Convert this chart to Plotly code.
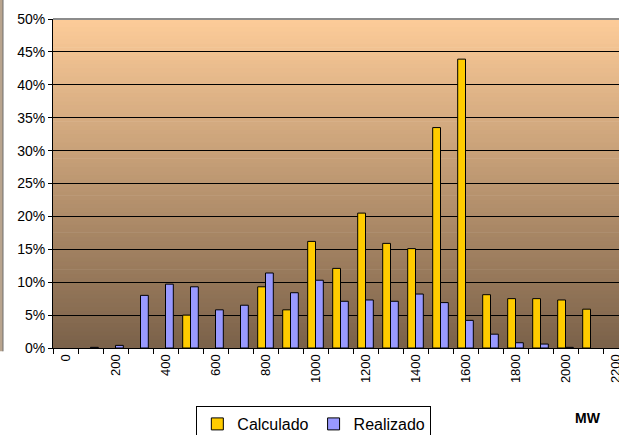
import plotly.graph_objects as go

# ---- data ----
mw = [0, 100, 200, 300, 400, 500, 600, 700, 800, 900, 1000, 1100,
      1200, 1300, 1400, 1500, 1600, 1700, 1800, 1900, 2000, 2100, 2200]
calculado = [None, None, None, None, None, 0.050, None, None, 0.093, 0.058, 0.162, 0.121,
             0.205, 0.159, 0.151, 0.335, 0.439, 0.081, 0.075, 0.075, 0.073, 0.059, None]
realizado = [None, 0.001, 0.004, 0.080, 0.097, 0.093, 0.058, 0.065, 0.114, 0.084, 0.103, 0.071,
             0.073, 0.071, 0.082, 0.069, 0.042, 0.021, 0.008, 0.006, 0.001, None, None]
tick_vals = [0, 200, 400, 600, 800, 1000, 1200, 1400, 1600, 1800, 2000, 2200]
tick_text = [str(v) for v in tick_vals]
y_ticks = [i * 0.05 for i in range(11)]

FONT = "Liberation Sans, Arial, sans-serif"

fig = go.Figure()
fig.add_trace(go.Bar(x=mw, y=calculado, name="Calculado",
                     marker=dict(color="#FFCC00", line=dict(color="#000000", width=1))))
fig.add_trace(go.Bar(x=mw, y=realizado, name="Realizado",
                     marker=dict(color="#9999FF", line=dict(color="#000000", width=1))))

# gradient background (style only)
shapes = []
N = 80
top = (253, 204, 153)
bot = (122, 97, 73)
for i in range(N):
    t = (i + 0.5) / N
    c = tuple(round(bot[k] + (top[k] - bot[k]) * t) for k in range(3))
    shapes.append(dict(type="rect", xref="x domain", yref="y domain",
                       x0=0, x1=1, y0=i / N, y1=(i + 1) / N + 0.002,
                       fillcolor="rgb(%d,%d,%d)" % c, line=dict(width=0), layer="below"))
# top frame line (gray)
shapes.append(dict(type="line", xref="x domain", yref="y domain", x0=0, x1=1, y0=1, y1=1,
                   line=dict(color="#8c8c8c", width=2), layer="above"))
# remnant strip at far left
shapes.append(dict(type="rect", xref="paper", yref="paper", x0=-53 / 566, x1=-50 / 566,
                   y0=-0.01, y1=1.06, fillcolor="#b8a48e", line=dict(width=0)))
shapes.append(dict(type="line", xref="paper", yref="paper", x0=-50 / 566, x1=-50 / 566,
                   y0=-0.01, y1=1.06, line=dict(color="#6e6e6e", width=1)))

fig.update_layout(
    width=619, height=435,
    margin=dict(l=53, r=0, t=19, b=87),
    paper_bgcolor="white", plot_bgcolor="rgba(0,0,0,0)",
    barmode="group", bargap=0.375, bargroupgap=0,
    font=dict(family=FONT, color="black", size=13),
    shapes=shapes,
    showlegend=True,
    legend=dict(orientation="h", xref="container", yref="container",
                x=0.507, xanchor="center", y=1 - 406 / 435, yanchor="top",
                bordercolor="black", borderwidth=1, bgcolor="white", itemwidth=30,
                font=dict(size=16, family=FONT), traceorder="normal",
                tracegroupgap=0),
    annotations=[dict(text="<b>MW</b>", xref="paper", yref="paper", x=0.945, y=-0.213,
                      xanchor="center", yanchor="middle", showarrow=False,
                      font=dict(size=14, family=FONT))],
)
fig.update_xaxes(range=[-50, 2214], tickvals=tick_vals, ticktext=tick_text, tickangle=-90,
                 ticks="", showgrid=False, zeroline=False, automargin=False,
                 ticklabeloverflow="allow",
                 showline=True, linecolor="black", linewidth=1,
                 tickfont=dict(size=13),
                 minor=dict(tickvals=[v - 50 for v in mw] + [2250], ticks="outside",
                            ticklen=5, tickcolor="black", showgrid=False))
fig.update_yaxes(range=[0, 0.5], tickvals=y_ticks, tickformat=".0%", automargin=False,
                 showgrid=True, gridcolor="black", gridwidth=1, zeroline=False,
                 showline=True, linecolor="black", linewidth=1,
                 ticks="outside", ticklen=4, tickcolor="black",
                 tickfont=dict(size=14))

fig.write_html("out.html", config={"displayModeBar": False},
               post_script="document.body.style.margin='0';document.body.style.overflow='hidden';")
